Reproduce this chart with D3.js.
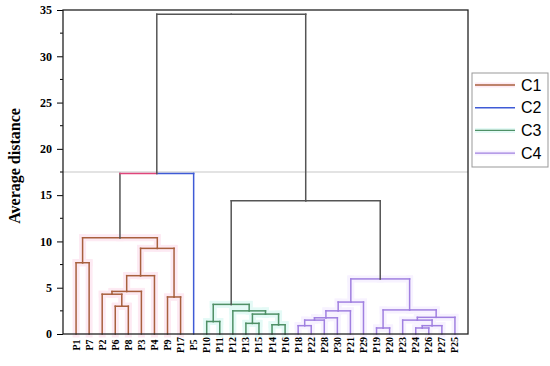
<!DOCTYPE html>
<html>
<head>
<meta charset="utf-8">
<script src="https://cdn.jsdelivr.net/npm/d3@7"></script>
<style>
  body { margin: 0; background: #fff; }
  .leaf { font-family: "Liberation Serif", "Times New Roman", serif; font-weight: bold; font-size: 10px; }
  .yaxis text { font-family: "Liberation Serif", "Times New Roman", serif; font-weight: bold; font-size: 12px; }
  .axisText { font-family: "Liberation Serif", "Times New Roman", serif; font-weight: bold; font-size: 16px; }
  .legendText { font-family: "Liberation Sans", Arial, sans-serif; font-size: 16px; }
</style>
</head>
<body>
<div class="chart"></div>
<script>
var svgWidth = 550;
var svgHeight = 366;

var margin = { top: 10, right: 82, bottom: 32, left: 63 };
var width = svgWidth - margin.left - margin.right;
var height = svgHeight - margin.top - margin.bottom;

// Leaf order along the x axis
var leaves = ["P1", "P7", "P2", "P6", "P8", "P3", "P4", "P9", "P17", "P5",
  "P10", "P11", "P12", "P13", "P15", "P14", "P16",
  "P18", "P22", "P28", "P30", "P21", "P29", "P19", "P20", "P23", "P24", "P26", "P27", "P25"];

// Cluster of every leaf
var leafGroups = ["C1", "C1", "C1", "C1", "C1", "C1", "C1", "C1", "C1", "C2",
  "C3", "C3", "C3", "C3", "C3", "C3", "C3",
  "C4", "C4", "C4", "C4", "C4", "C4", "C4", "C4", "C4", "C4", "C4", "C4", "C4"];

// Merges: left child, right child ("m#" = earlier merge), height, cluster
var mergeLeft   = ["P1", "P6", "P2", "m2", "m3", "P9", "m4", "m0", "m7",
  "P10", "P13", "P14", "m10", "P12", "m9",
  "P18", "m15", "m16", "m17", "m18", "P19", "P24", "m21", "P23", "m23", "m20", "m19",
  "m14", "m8"];
var mergeRight  = ["P7", "P8", "m1", "P3", "P4", "P17", "m5", "m6", "P5",
  "P11", "P15", "P16", "m11", "m12", "m13",
  "P22", "P28", "P30", "P21", "P29", "P20", "P26", "P27", "m22", "P25", "m24", "m25",
  "m26", "m27"];
var mergeHeight = [7.7, 3.0, 4.3, 4.6, 6.3, 4.0, 9.25, 10.4, 17.35,
  1.35, 1.15, 1.0, 2.15, 2.5, 3.2,
  0.9, 1.5, 1.75, 2.5, 3.45, 0.65, 0.65, 0.9, 1.5, 1.8, 2.6, 5.95,
  14.4, 34.55];
var mergeGroup  = ["C1", "C1", "C1", "C1", "C1", "C1", "C1", "C1", "C2",
  "C3", "C3", "C3", "C3", "C3", "C3",
  "C4", "C4", "C4", "C4", "C4", "C4", "C4", "C4", "C4", "C4", "C4", "C4",
  "root", "root"];

var yTicks = [0, 5, 10, 15, 20, 25, 30, 35];
var cutHeight = 17.5;
var legendLabels = ["C1", "C2", "C3", "C4"];

var colors = { C1: "#a8603e", C2: "#3f5bd6", C3: "#4f9066", C4: "#a080e0", root: "#555" };
var halos = { C1: "#fdeaf3", C2: "none", C3: "#e4faf6", C4: "#f7f2ff", root: "none" };

var svg = d3.select(".chart")
  .append("svg")
  .attr("width", svgWidth)
  .attr("height", svgHeight);

var chartGroup = svg.append("g")
  .attr("transform", `translate(${margin.left}, ${margin.top})`);

// scales
var xScale = d3.scalePoint()
  .domain(leaves)
  .range([0, width])
  .padding(1);

var yScale = d3.scaleLinear()
  .domain([0, 35])
  .range([height, 0]);

// build nodes
var nodes = {};
leaves.forEach(function (name, i) {
  nodes[name] = { name: name, x: xScale(name), h: 0, group: leafGroups[i] };
});
mergeLeft.forEach(function (l, i) {
  var a = nodes[l], b = nodes[mergeRight[i]];
  var node = { name: "m" + i, x: (a.x + b.x) / 2, h: mergeHeight[i], group: mergeGroup[i], children: [a, b] };
  a.parent = node;
  b.parent = node;
  nodes[node.name] = node;
});

// one segment list: stems and half bars
var segs = [];
Object.values(nodes).forEach(function (n) {
  if (!n.parent) return;
  var p = n.parent;
  var same = p.group === n.group;
  var stemColor = same ? n.group : "root";
  segs.push({ x1: n.x, y1: n.h, x2: n.x, y2: p.h, g: stemColor, halo: n.group });
  var barColor = same ? colors[p.group] : (p.group === "C2" ? "#e0457b" : colors.root);
  segs.push({ x1: n.x, y1: p.h, x2: p.x, y2: p.h, c: barColor, g: same ? p.group : "root", halo: same ? p.group : "root" });
});

// halos first
chartGroup.append("g")
  .selectAll("line")
  .data(segs.filter(d => halos[d.halo] !== "none" && d.g !== "root"))
  .enter()
  .append("line")
  .attr("x1", d => d.x1)
  .attr("x2", d => d.x2)
  .attr("y1", d => yScale(d.y1))
  .attr("y2", d => yScale(d.y2))
  .attr("stroke", d => halos[d.halo])
  .attr("stroke-width", 7)
  .attr("stroke-linecap", "square");

// threshold line
chartGroup.append("line")
  .attr("x1", 0)
  .attr("x2", width)
  .attr("y1", yScale(cutHeight))
  .attr("y2", yScale(cutHeight))
  .attr("stroke", "#c8c8c8")
  .attr("stroke-width", 1.2);

chartGroup.append("g")
  .selectAll("line")
  .data(segs)
  .enter()
  .append("line")
  .attr("x1", d => d.x1)
  .attr("x2", d => d.x2)
  .attr("y1", d => yScale(d.y1))
  .attr("y2", d => yScale(d.y2))
  .attr("stroke", d => d.c || colors[d.g])
  .attr("stroke-width", 1.5)
  .attr("stroke-linecap", "square");

// axes
var leftAxis = d3.axisLeft(yScale)
  .tickValues(yTicks)
  .tickSize(6)
  .tickPadding(5);

var yAxis = chartGroup.append("g")
  .classed("yaxis", true)
  .call(leftAxis);
yAxis.select(".domain").remove();

// minor ticks
chartGroup.append("g")
  .selectAll("line")
  .data(yTicks.slice(0, -1).map(d => d + 2.5))
  .enter()
  .append("line")
  .attr("x1", -3)
  .attr("x2", 0)
  .attr("y1", d => yScale(d))
  .attr("y2", d => yScale(d))
  .attr("stroke", "#000");

// frame
chartGroup.append("rect")
  .attr("width", width)
  .attr("height", height)
  .attr("fill", "none")
  .attr("stroke", "#222")
  .attr("stroke-width", 1.3);

// leaf labels
chartGroup.append("g")
  .selectAll("text")
  .data(leaves)
  .enter()
  .append("text")
  .attr("class", "leaf")
  .attr("transform", d => `translate(${xScale(d)}, ${height + 11}) rotate(-90)`)
  .attr("dy", "0.35em")
  .attr("text-anchor", "middle")
  .text(d => d);

// y label
svg.append("text")
  .attr("class", "axisText")
  .attr("transform", "rotate(-90)")
  .attr("x", -166)
  .attr("y", 20)
  .attr("text-anchor", "middle")
  .text("Average distance");

// legend
var legend = svg.append("g")
  .attr("transform", "translate(472, 73)");

legend.append("rect")
  .attr("width", 76)
  .attr("height", 94)
  .attr("fill", "#fff")
  .attr("stroke", "#999");

var items = legend.selectAll("g.item")
  .data(legendLabels)
  .enter()
  .append("g")
  .attr("class", "item")
  .attr("transform", (d, i) => `translate(0, ${12 + i * 22.7})`);

items.append("line")
  .attr("x1", 3)
  .attr("x2", 43)
  .attr("stroke", d => halos[d] === "none" ? "#fff" : halos[d])
  .attr("stroke-width", 5);

items.append("line")
  .attr("x1", 3)
  .attr("x2", 43)
  .attr("stroke", d => colors[d])
  .attr("stroke-width", 1.4);

items.append("text")
  .attr("class", "legendText")
  .attr("x", 49)
  .attr("dy", "0.35em")
  .text(d => d);
</script>
</body>
</html>
